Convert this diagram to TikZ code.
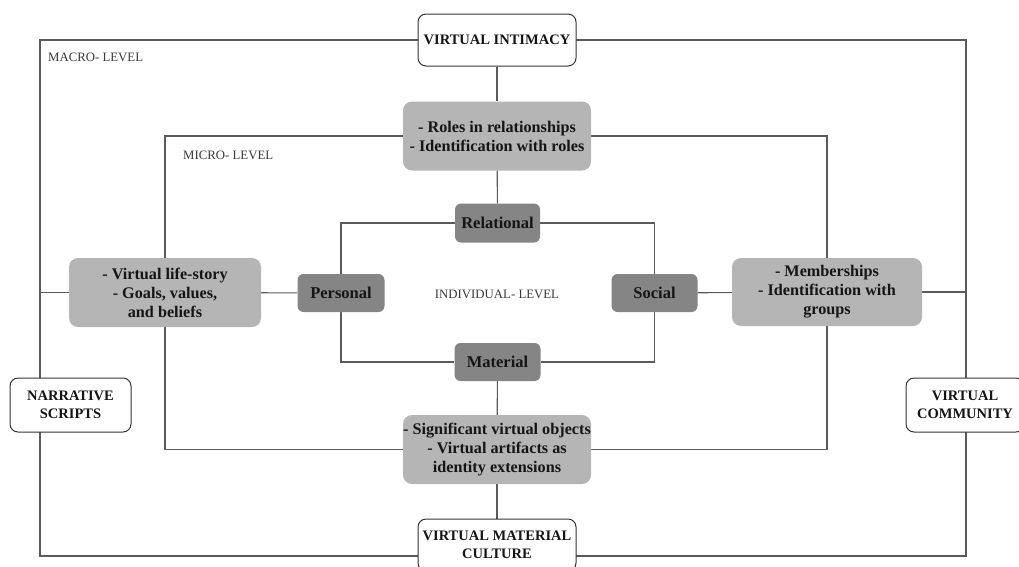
\documentclass[tikz,border=0pt]{standalone}
\usepackage{fontspec}
\setmainfont{Liberation Serif}
\usetikzlibrary{backgrounds}
\definecolor{lightbox}{HTML}{B5B5B5}
\definecolor{darkbox}{HTML}{858585}
\definecolor{linec}{HTML}{5A5A5A}
\definecolor{textc}{HTML}{151515}
\tikzset{
  conn/.style={draw=linec, line width=1.1pt},
  outerbox/.style={draw=black!80, line width=1pt, fill=white, rounded corners=8pt, align=center, text=textc, font=\bfseries\fontsize{14.5}{18}\selectfont, inner sep=0pt},
  midbox/.style={fill=lightbox, rounded corners=9pt, align=center, text=textc, font=\bfseries\fontsize{16.2}{19}\selectfont, inner sep=0pt},
  corebox/.style={fill=darkbox, rounded corners=6pt, align=center, text=textc, font=\bfseries\fontsize{16.5}{18}\selectfont, inner sep=0pt},
  levellabel/.style={text=textc!85, font=\fontsize{12.8}{14}\selectfont, inner sep=0pt}
}
\begin{document}
\begin{tikzpicture}[x=1pt,y=-1pt]
\useasboundingbox (0,0) rectangle (1019,566);
% outer (macro) nodes
\node[outerbox, minimum width=158pt, minimum height=52pt] (vi) at (497,40) {VIRTUAL INTIMACY};
\node[outerbox, minimum width=121pt, minimum height=54pt] (ns) at (70.5,405) {NARRATIVE\\SCRIPTS};
\node[outerbox, minimum width=118pt, minimum height=54pt] (vc) at (965,405) {VIRTUAL\\COMMUNITY};
\node[outerbox, minimum width=158pt, minimum height=52pt] (vmc) at (497,545) {VIRTUAL MATERIAL\\CULTURE};
% micro nodes
\node[midbox, minimum width=188pt, minimum height=69pt] (roles) at (497,136) {- Roles in relationships\\- Identification with roles};
\node[midbox, minimum width=192pt, minimum height=69pt] (life) at (165,292.5) {- Virtual life-story\\- Goals, values,\\and beliefs};
\node[midbox, minimum width=190pt, minimum height=68pt] (memb) at (827,292) {- Memberships\\- Identification with\\groups};
\node[midbox, minimum width=188pt, minimum height=69pt] (sig) at (497,449.5) {- Significant virtual objects\\- Virtual artifacts as\\identity extensions};
% individual nodes
\node[corebox, minimum width=85pt, minimum height=39pt] (rel) at (497.5,223) {Relational};
\node[corebox, minimum width=87pt, minimum height=38pt] (pers) at (341,293) {Personal};
\node[corebox, minimum width=86pt, minimum height=38pt] (soc) at (654.5,293) {Social};
\node[corebox, minimum width=86pt, minimum height=38pt] (mat) at (497.5,362) {Material};
% level labels
\node[levellabel, anchor=west] (macrolab) at (48,57) {MACRO- LEVEL};
\node[levellabel, anchor=west] (microlab) at (183,155) {MICRO- LEVEL};
\node[levellabel] (indlab) at (497,294) {INDIVIDUAL- LEVEL};
% frames and connectors
\coordinate (tl) at (40,40);
\coordinate (tr) at (966,40);
\coordinate (bl) at (40,556);
\coordinate (br) at (966,556);
\begin{pgfonlayer}{background}
\draw[conn] (tl) -- (tr) -- (br) -- (bl) -- cycle;
\draw[conn] (roles) -| (life);
\draw[conn] (life) |- (sig);
\draw[conn] (sig) -| (memb);
\draw[conn] (memb) |- (roles);
\draw[conn] (rel) -| (pers);
\draw[conn] (pers) |- (mat);
\draw[conn] (mat) -| (soc);
\draw[conn] (soc) |- (rel);
\draw[conn] (vi) -- (roles);
\draw[conn] (roles) -- (rel);
\draw[conn] (mat) -- (sig);
\draw[conn] (sig) -- (vmc);
\draw[conn] (life) -- (pers);
\draw[conn] (soc) -- (memb);
\draw[conn] (life.west) -- (life.west -| tl);
\draw[conn] (memb.east) -- (memb.east -| tr);
\end{pgfonlayer}
\end{tikzpicture}
\end{document}
